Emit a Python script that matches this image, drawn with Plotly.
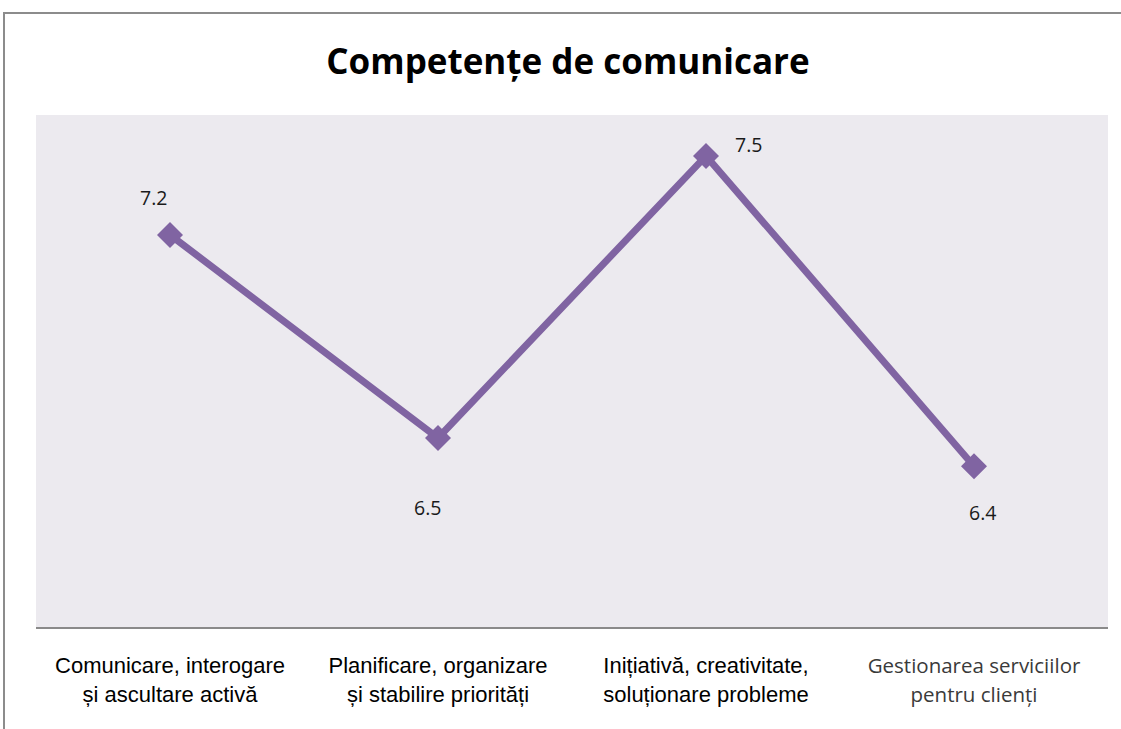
import plotly.graph_objects as go

categories = [
    "Comunicare, interogare<br>și ascultare activă",
    "Planificare, organizare<br>și stabilire priorități",
    "Inițiativă, creativitate,<br>soluționare probleme",
    "<span style=\"font-family:'Open Sans';font-size:20.5px;fill:#3a3a3a\">Gestionarea serviciilor<br>pentru clienți</span>",
]
cat_keys = ["c1", "c2", "c3", "c4"]
values = [7.22, 6.5, 7.5, 6.4]
label_shift_x = [-17, -11, 42, 8]
label_shift_y = [37, -69, 11, -46]

purple = "#8064A2"

fig = go.Figure()
fig.add_trace(go.Scatter(
    x=cat_keys, y=values, mode="lines+markers",
    line=dict(color=purple, width=7),
    marker=dict(symbol="diamond", size=20, color=purple),
    hoverinfo="skip", showlegend=False,
))

for k, v, dx, dy in zip(cat_keys, values, label_shift_x, label_shift_y):
    fig.add_annotation(x=k, y=v, text=f"{v:.1f}", showarrow=False,
                       xshift=dx, yshift=dy,
                       font=dict(family="Open Sans", size=19.5, color="#1a1a1a"))

fig.update_layout(
    width=1121, height=729,
    margin=dict(l=36, r=13, t=115, b=102),
    paper_bgcolor="white", plot_bgcolor="#ECEAEF",
    title=dict(text="<b>Competențe de comunicare</b>", x=(568 / 1121), xanchor="center",
               y=1 - 62 / 729, yanchor="middle",
               font=dict(family="Open Sans", size=35, color="black")),
    xaxis=dict(tickmode="array", tickvals=cat_keys, ticktext=categories,
               showgrid=False, showline=True, linecolor="#8A8A8A", linewidth=1.5,
               ticks="", ticklabelstandoff=18,
               tickfont=dict(family="Liberation Sans, Arial", size=22, color="black"),
               range=[-0.5, 3.5], fixedrange=True),
    yaxis=dict(visible=False, range=[5.83, 7.645], showgrid=False, zeroline=False),
    shapes=[dict(type="rect", xref="paper", yref="paper",
                 x0=(4 - 36) / 1072, x1=1.2, y0=-0.5, y1=(627 - 13) / 512,
                 line=dict(color="#8C8C8C", width=2), fillcolor="rgba(0,0,0,0)", layer="above")],
)

fig.write_html("out.html", config={"displayModeBar": False},
               post_script="document.body.style.margin='0';document.body.style.overflow='hidden';")
